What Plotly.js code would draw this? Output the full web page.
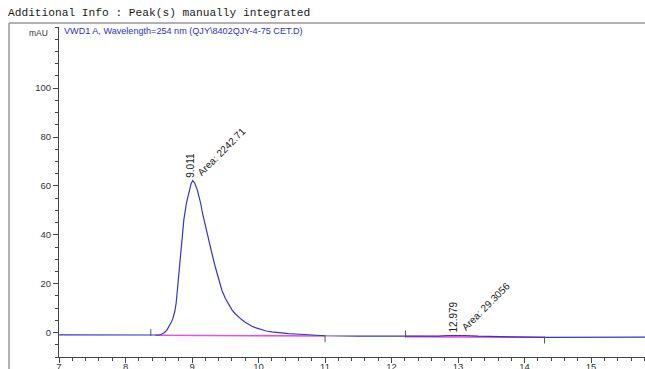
<!DOCTYPE html>
<html>
<head>
<meta charset="utf-8">
<script src="https://cdn.plot.ly/plotly-3.0.1.min.js"></script>
<style>html,body{margin:0;padding:0;background:#fff;}#chart{width:645px;height:369px;}</style>
</head>
<body>
<div id="chart"></div>
<script>
// Retention time (min) and detector signal (mAU)
const times = [7.0, 7.5, 8.0, 8.3, 8.45, 8.50, 8.54, 8.58, 8.62, 8.66, 8.69, 8.712, 8.74, 8.762, 8.78, 8.80, 8.825, 8.847, 8.877, 8.917, 8.94, 8.962, 8.985, 9.011, 9.04, 9.078, 9.10, 9.128, 9.16, 9.20, 9.238, 9.289, 9.353, 9.40, 9.45, 9.50, 9.553, 9.60, 9.65, 9.70, 9.75, 9.80, 9.85, 9.90, 9.95, 10.0, 10.06, 10.116, 10.2, 10.3, 10.45, 10.617, 10.8, 11.0, 11.5, 12.0, 12.4, 12.7, 12.85, 12.979, 13.1, 13.3, 13.6, 14.0, 14.3, 14.7, 14.95, 15.1, 15.3, 15.81];
const signal = [-0.95, -1.0, -1.05, -1.1, -1.1, -1.0, -0.7, -0.1, 0.9, 2.7, 4.3, 5.8, 8.5, 12.2, 17.5, 25.8, 33.0, 39.4, 46.2, 53.1, 56.2, 58.5, 60.8, 62.2, 61.2, 58.5, 56.5, 53.1, 48.5, 43.5, 39.0, 33.5, 26.5, 21.5, 17.2, 14.0, 11.3, 9.3, 7.7, 6.3, 5.2, 4.2, 3.3, 2.6, 2.0, 1.5, 1.0, 0.65, 0.25, -0.1, -0.45, -0.7, -1.0, -1.3, -1.5, -1.6, -1.65, -1.45, -1.2, -1.1, -1.2, -1.5, -1.8, -1.9, -1.95, -1.95, -2.15, -2.05, -1.9, -1.9];

// Integration baselines
const base1X = [8.45, 11.0];
const base1Y = [-1.1, -1.4];
const base2X = [12.21, 14.3];
const base2Y = [-1.65, -1.95];

// Integration event marks
const markX = [8.38, 11.0, 12.21, 14.3];
const markY = [0.0, -2.5, -0.6, -3.05];

// Peak labels
const peakRT = [9.011, 12.979];
const peakH = [62.2, -1.1];
const peakRTLabel = ["9.011", "12.979"];
const peakArea = ["Area: 2242.71", "Area: 29.3056"];

const yTicks = [0, 20, 40, 60, 80, 100];
const xTicks = [7, 8, 9, 10, 11, 12, 13, 14, 15];

const traces = [
  {x: base1X, y: base1Y, mode: 'lines', line: {color: '#e055e0', width: 1.6}, hoverinfo: 'skip'},
  {x: base2X, y: base2Y, mode: 'lines', line: {color: '#e055e0', width: 1.6}, hoverinfo: 'skip'},
  {x: times, y: signal, mode: 'lines', line: {color: '#3535c8', width: 1.2}},
  {x: markX, y: markY, mode: 'markers', marker: {symbol: 'line-ns', size: 5, line: {color: '#555', width: 1}}}
];

const annotations = [];
for (let i = 0; i < peakRT.length; i++) {
  annotations.push({x: peakRT[i], y: peakH[i], xref: 'x', yref: 'y', text: peakRTLabel[i], showarrow: false,
    textangle: -90, xanchor: 'center', yanchor: 'bottom', xshift: -3, yshift: 1,
    font: {family: 'Liberation Sans, Arial', size: 10, color: '#222'}});
  annotations.push({x: peakRT[i], y: peakH[i], xref: 'x', yref: 'y', text: peakArea[i], showarrow: false,
    textangle: -45, xanchor: 'left', yanchor: 'bottom', xshift: 0, yshift: 0,
    font: {family: 'Liberation Sans, Arial', size: 10, color: '#222'}});
}
annotations.push({x: 0.005, y: 0.988, xref: 'paper', yref: 'paper', text: 'VWD1 A, Wavelength=254 nm (QJY\\8402QJY-4-75 CET.D)',
  showarrow: false, xanchor: 'left', yanchor: 'middle', font: {family: 'Liberation Sans, Arial', size: 9.1, color: '#3030c0'}});
annotations.push({x: -0.0154, y: 0.982, xref: 'paper', yref: 'paper', text: 'mAU',
  showarrow: false, xanchor: 'right', yanchor: 'middle', font: {family: 'Liberation Sans, Arial', size: 8.5, color: '#333'}});

const layout = {
  width: 645, height: 369,
  margin: {l: 59, r: 0, t: 27, b: 12, pad: 0},
  paper_bgcolor: '#fff', plot_bgcolor: '#fff',
  showlegend: false, hovermode: false,
  title: {text: 'Additional Info : Peak(s) manually integrated', xref: 'container', yref: 'container',
    x: 8/645, xanchor: 'left', y: 1 - 12/369, yanchor: 'middle',
    font: {family: 'Liberation Mono, DejaVu Sans Mono, monospace', size: 11.2, color: '#1a1a1a'}},
  xaxis: {range: [7, 15.81], tickvals: xTicks, ticks: 'outside', ticklen: 5, tickcolor: '#444',
    showline: true, linecolor: '#444', linewidth: 1, showgrid: false, zeroline: false,
    ticklabelstandoff: -4,
    minor: {dtick: 0.2, ticks: 'outside', ticklen: 3, tickcolor: '#444', showgrid: false},
    tickfont: {family: 'Liberation Sans, Arial', size: 9.5, color: '#333'}},
  yaxis: {range: [-10, 125], tickvals: yTicks, ticks: 'outside', ticklen: 5, tickcolor: '#444',
    showline: true, linecolor: '#444', linewidth: 1, showgrid: false, zeroline: false,
    minor: {dtick: 5, ticks: 'outside', ticklen: 3, tickcolor: '#444', showgrid: false},
    tickfont: {family: 'Liberation Sans, Arial', size: 9.5, color: '#333'}},
  annotations: annotations,
  shapes: [
    {type: 'line', xref: 'paper', yref: 'paper', x0: -0.0853, x1: -0.0853, y0: -0.1, y1: 1.0121, line: {color: '#999', width: 1.5}},
    {type: 'line', xref: 'paper', yref: 'paper', x0: -0.0853, x1: 1.01, y0: 1.0121, y1: 1.0121, line: {color: '#999', width: 1.5}}
  ]
};

Plotly.newPlot('chart', traces, layout, {staticPlot: true, displayModeBar: false});
</script>
</body>
</html>
